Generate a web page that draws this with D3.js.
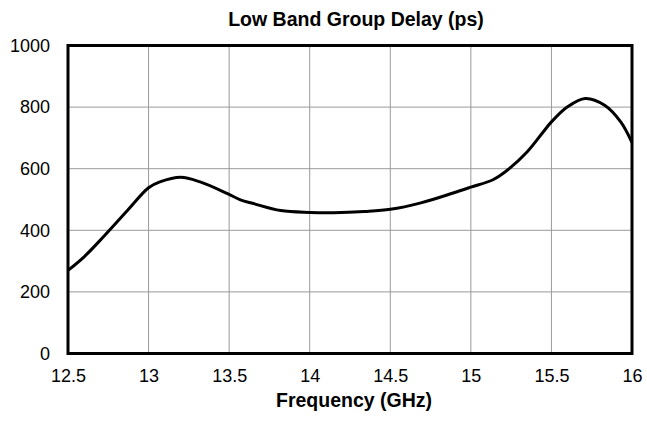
<!DOCTYPE html>
<html lang="en">
  <head>
    <meta charset="utf-8" />
    <title>Low Band Group Delay (ps)</title>
    <style>
      body {
        margin: 0;
        background: #fff;
        font-family: 'Liberation Sans', Arial, Helvetica, sans-serif;
      }
      .grid line {
        stroke: #9a9a9a;
        stroke-width: 1;
      }
      .tick text {
        font-size: 18px;
        fill: #000;
      }
    </style>
    <script src="https://d3js.org/d3.v7.min.js"></script>
  </head>

  <body>
    <svg width="647" height="424"></svg>

    <script>
      // values
      const freq = [
        12.5, 12.6, 12.72, 12.87, 13.0, 13.07, 13.2, 13.32, 13.49, 13.57,
        13.65, 13.82, 14.0, 14.15, 14.34, 14.5, 14.69, 14.89, 15.0, 15.14,
        15.24, 15.35, 15.45, 15.5, 15.6, 15.71, 15.83, 15.93, 16.0,
      ];
      const delay = [
        270, 314, 379, 465, 538, 557, 572, 557, 519, 499,
        487, 464, 458, 457, 461, 468, 489, 521, 540, 565,
        601, 655, 720, 752, 801, 828, 806, 752, 685,
      ];
      const xTicks = [12.5, 13, 13.5, 14, 14.5, 15, 15.5, 16];
      const yTicks = [0, 200, 400, 600, 800, 1000];

      const svg = d3.select('svg');
      const margin = { top: 45.5, right: 15, bottom: 70.5, left: 68 };
      const width = 647 - margin.left - margin.right;
      const height = 424 - margin.top - margin.bottom;

      const x = d3.scaleLinear().domain([12.5, 16]).range([0, width]);
      const y = d3.scaleLinear().domain([0, 1000]).range([height, 0]);

      const g = svg
        .append('g')
        .attr('transform', `translate(${margin.left},${margin.top})`);

      // grid
      g.append('g')
        .attr('class', 'grid')
        .selectAll('line')
        .data(xTicks.slice(1, -1))
        .enter()
        .append('line')
        .attr('x1', (d) => x(d))
        .attr('x2', (d) => x(d))
        .attr('y1', 0)
        .attr('y2', height);
      g.append('g')
        .attr('class', 'grid')
        .selectAll('line')
        .data(yTicks.slice(1, -1))
        .enter()
        .append('line')
        .attr('x1', 0)
        .attr('x2', width)
        .attr('y1', (d) => y(d))
        .attr('y2', (d) => y(d));

      // axes (labels only, frame drawn below)
      const xAxis = g
        .append('g')
        .attr('transform', `translate(0,${height})`)
        .call(
          d3.axisBottom(x).tickValues(xTicks).tickSize(0).tickPadding(16).tickFormat((d) => d),
        );
      const yAxis = g
        .append('g')
        .call(d3.axisLeft(y).tickValues(yTicks).tickSize(0).tickPadding(18).tickFormat((d) => d));
      xAxis.select('.domain').remove();
      yAxis.select('.domain').remove();

      // curve
      const pts = freq.map((f, i) => [f, delay[i]]);
      g.append('path')
        .datum(pts)
        .attr('fill', 'none')
        .attr('stroke', '#000')
        .attr('stroke-width', 3)
        .attr('stroke-linejoin', 'round')
        .attr(
          'd',
          d3
            .line()
            .x((d) => x(d[0]))
            .y((d) => y(d[1]))
            .curve(d3.curveCatmullRom.alpha(0.5)),
        );

      // frame
      g.append('rect')
        .attr('width', width)
        .attr('height', height)
        .attr('fill', 'none')
        .attr('stroke', '#000')
        .attr('stroke-width', 3);

      // titles
      svg
        .append('text')
        .attr('x', 356)
        .attr('y', 26)
        .attr('text-anchor', 'middle')
        .style('font-size', '19.5px')
        .style('font-weight', 'bold')
        .text('Low Band Group Delay (ps)');
      svg
        .append('text')
        .attr('x', 354)
        .attr('y', 407)
        .attr('text-anchor', 'middle')
        .style('font-size', '19.5px')
        .style('font-weight', 'bold')
        .text('Frequency (GHz)');
    </script>
  </body>
</html>
